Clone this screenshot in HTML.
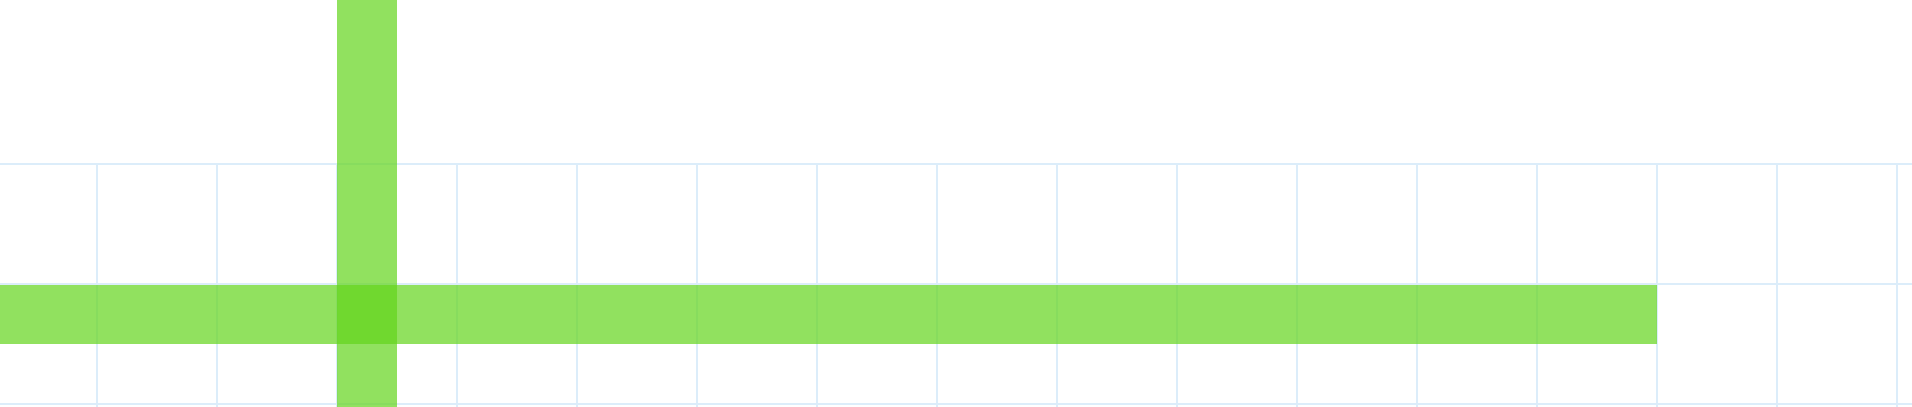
<!DOCTYPE html>
<html><head><meta charset="utf-8"><style>
html,body{margin:0;padding:0;background:#fff;}
svg{display:block;}
</style></head><body>
<svg id="chart" width="1912" height="407" xmlns="http://www.w3.org/2000/svg"></svg>
<script>
const xTicks = [0,1,2,3,4,5,6,7,8,9,10,11,12,13,14,15];
const yTicks = [0,1,2];
const hBarStart = [-1];
const hBarEnd = [13];
const vBarStart = [2.0];
const vBarEnd = [2.5];

const NS = 'http://www.w3.org/2000/svg';
const svg = document.getElementById('chart');
const x = v => 97 + 120 * v;
const y = v => 164 + 120 * v;

const grid = document.createElementNS(NS, 'g');


svg.appendChild(grid);
yTicks.forEach(t => {
  const l = document.createElementNS(NS, 'line');
  
  
  l.setAttribute('x1', 0); l.setAttribute('x2', 1912);
  l.setAttribute('y1', y(t)); l.setAttribute('y2', y(t));
  l.setAttribute('stroke', '#dcedfa'); l.setAttribute('stroke-width', 2);
  grid.appendChild(l);
});
xTicks.forEach(t => {
  const l = document.createElementNS(NS, 'line');
  
  
  l.setAttribute('x1', x(t)); l.setAttribute('x2', x(t));
  l.setAttribute('y1', y(0)); l.setAttribute('y2', 407);
  l.setAttribute('stroke', '#dcedfa'); l.setAttribute('stroke-width', 2);
  grid.appendChild(l);
});

hBarStart.forEach((s, i) => {
  const r = document.createElementNS(NS, 'rect');
  
  
  r.setAttribute('x', x(s)); r.setAttribute('width', x(hBarEnd[i]) - x(s));
  r.setAttribute('y', 285); r.setAttribute('height', 59);
  r.setAttribute('fill', 'rgb(98,212,27)'); r.setAttribute('fill-opacity', 0.7);
  svg.appendChild(r);
});
vBarStart.forEach((s, i) => {
  const r = document.createElementNS(NS, 'rect');
  
  
  r.setAttribute('x', x(s)); r.setAttribute('width', x(vBarEnd[i]) - x(s));
  r.setAttribute('y', 0); r.setAttribute('height', 407);
  r.setAttribute('fill', 'rgb(98,212,27)'); r.setAttribute('fill-opacity', 0.7);
  svg.appendChild(r);
});
</script>
</body></html>
